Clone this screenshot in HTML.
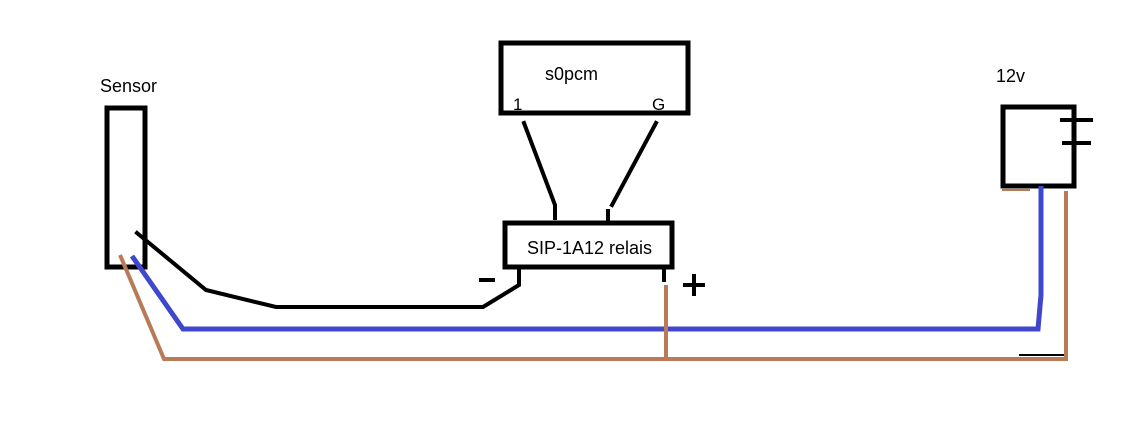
<!DOCTYPE html>
<html><head><meta charset="utf-8"><style>
html,body{margin:0;padding:0;background:#fff;width:1131px;height:430px;overflow:hidden}
text{font-family:"Liberation Sans","DejaVu Sans",sans-serif;fill:#000}
</style></head><body>
<svg width="1131" height="430" viewBox="0 0 1131 430" xmlns="http://www.w3.org/2000/svg">
<g fill="none" stroke="#000" stroke-width="5">
<rect x="107" y="108" width="38" height="159"/>
<rect x="501" y="43" width="187" height="70"/>
<rect x="505" y="223" width="167" height="44"/>
<rect x="1003" y="107" width="71" height="79"/>
</g>
<g stroke="#000" stroke-width="4" fill="none" stroke-linecap="square">
<line x1="1062" y1="120" x2="1091" y2="120"/>
<line x1="1064" y1="143" x2="1089" y2="143"/>
<polyline points="137,233 206,290 276,307 483,307 519,285 519,267"/>
<line x1="481" y1="280" x2="493" y2="280"/>
<polyline points="524,123 555,205 555,218"/>
<polyline points="656,123 612,205"/>
<line x1="608" y1="211" x2="608" y2="220"/>
<line x1="664" y1="268" x2="664" y2="280"/>
<line x1="1020" y1="355" x2="1065" y2="355" stroke-width="2"/>
</g>
<g stroke="#000" stroke-width="4">
<line x1="683" y1="285" x2="705" y2="285"/>
<line x1="694" y1="274" x2="694" y2="296"/>
</g>
<polyline points="132,256 183,329 1038,329 1041,295 1041,186" fill="none" stroke="#3f48cc" stroke-width="5"/>
<g fill="none" stroke="#b97a57" stroke-width="4">
<polyline points="120,255 164,359 1066,359 1066,191"/>
<line x1="666" y1="285" x2="666" y2="359"/>
<line x1="1002" y1="190" x2="1030" y2="190" stroke-width="2"/>
</g>
<text x="100" y="92" font-size="18">Sensor</text>
<text x="545" y="80" font-size="18">s0pcm</text>
<text x="513" y="110" font-size="17">1</text>
<text x="652" y="110" font-size="17">G</text>
<text x="527" y="254" font-size="18">SIP-1A12 relais</text>
<text x="996" y="82" font-size="18">12v</text>
</svg>
</body></html>
